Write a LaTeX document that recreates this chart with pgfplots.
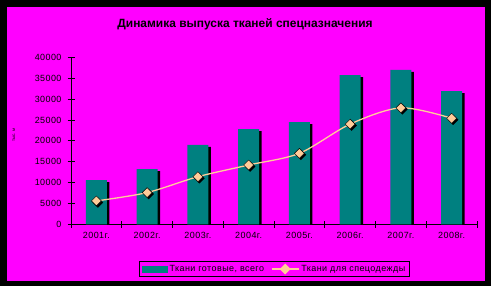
\documentclass[border=0pt]{standalone}
\usepackage{pgfplots}
\pgfplotsset{compat=1.18}
\usepackage{fontspec}
\setmainfont{Liberation Sans}
\newfontfamily\spfont[LetterSpace=5]{Liberation Sans}
\definecolor{mag}{HTML}{FF00FF}
\definecolor{tealb}{HTML}{008080}
\definecolor{peach}{HTML}{FFCC99}
\begin{document}
\begin{tikzpicture}[x=1bp,y=1bp]
\useasboundingbox (0,0) rectangle (491,286);
\fill[black] (0,0) rectangle (491,286);
\fill[mag] (7,5) rectangle (485,279);
\node[font=\bfseries\fontsize{12}{14}\selectfont] at (245,262) {Динамика выпуска тканей спецназначения};
\node[rotate=90,font=\fontsize{4.5}{5}\selectfont] at (14,151) {тыс. м};
\begin{axis}[
  at={(71bp,61.7bp)}, anchor=south west,
  width=406bp, height=167bp, scale only axis,
  xmin=0.5, xmax=8.5, ymin=0, ymax=40000,
  axis x line=bottom, axis y line=left,
  axis line style={-, line width=0.8bp, black},
  ytick={0,5000,...,40000},
  scaled y ticks=false,
  yticklabel style={xshift=-2.5bp, /pgf/number format/.cd, fixed, 1000 sep={}, assume math mode=true},
  tick align=center, major tick length=7bp,
  tick style={black, line width=0.8bp},
  tick label style={font=\spfont\fontsize{9}{10}\selectfont},
  xtick={0.5,1.5,...,8.5}, xticklabels={},
  extra x ticks={1,2,3,4,5,6,7,8},
  extra x tick labels={2001г.,2002г.,2003г.,2004г.,2005г.,2006г.,2007г.,2008г.},
  extra x tick style={major tick length=0pt, xticklabel style={yshift=-4bp}},
  legend style={at={(0.501,-0.268)}, anchor=center, legend columns=2,
    draw=black, line width=1.2bp, fill=mag, font=\spfont\fontsize{9}{10}\selectfont,
    /tikz/every even column/.append style={column sep=5bp},
    inner sep=2bp},
]
\addplot[ybar, fill=black, draw=none, bar width=21bp, bar shift=2.5bp, yshift=-2bp, forget plot]
  coordinates {(1,10600) (2,13200) (3,19000) (4,22800) (5,24500) (6,35750) (7,37000) (8,31900)};
\addplot[ybar, fill=tealb, draw=none, bar width=21bp, bar shift=0bp,
  legend image code/.code={\fill[tealb] (0bp,-3.5bp) rectangle (26bp,3.5bp);}]
  coordinates {(1,10600) (2,13200) (3,19000) (4,22800) (5,24500) (6,35750) (7,37000) (8,31900)};
\addlegendentry{Ткани готовые, всего}
\addplot[peach, line width=1.3bp, smooth, no marks,
  legend image code/.code={\draw[peach, line width=1.3bp] (0bp,0bp) -- (27bp,0bp);
    \fill[peach] (13.5bp,4.5bp) -- (18bp,0bp) -- (13.5bp,-4.5bp) -- (9bp,0bp) -- cycle;}]
  coordinates {(1,5600) (2,7600) (3,11400) (4,14200) (5,17000) (6,24000) (7,27900) (8,25400)};
\addlegendentry{Ткани для спецодежды}
\addplot[only marks, mark=square*, mark size=3.5bp, mark options={rotate=45, fill=black, draw=none},
  xshift=1.5bp, yshift=-1.5bp, forget plot]
  coordinates {(1,5600) (2,7600) (3,11400) (4,14200) (5,17000) (6,24000) (7,27900) (8,25400)};
\addplot[only marks, mark=square*, mark size=3.5bp, mark options={rotate=45, fill=peach, draw=none}, forget plot]
  coordinates {(1,5600) (2,7600) (3,11400) (4,14200) (5,17000) (6,24000) (7,27900) (8,25400)};
\end{axis}
\end{tikzpicture}
\end{document}
